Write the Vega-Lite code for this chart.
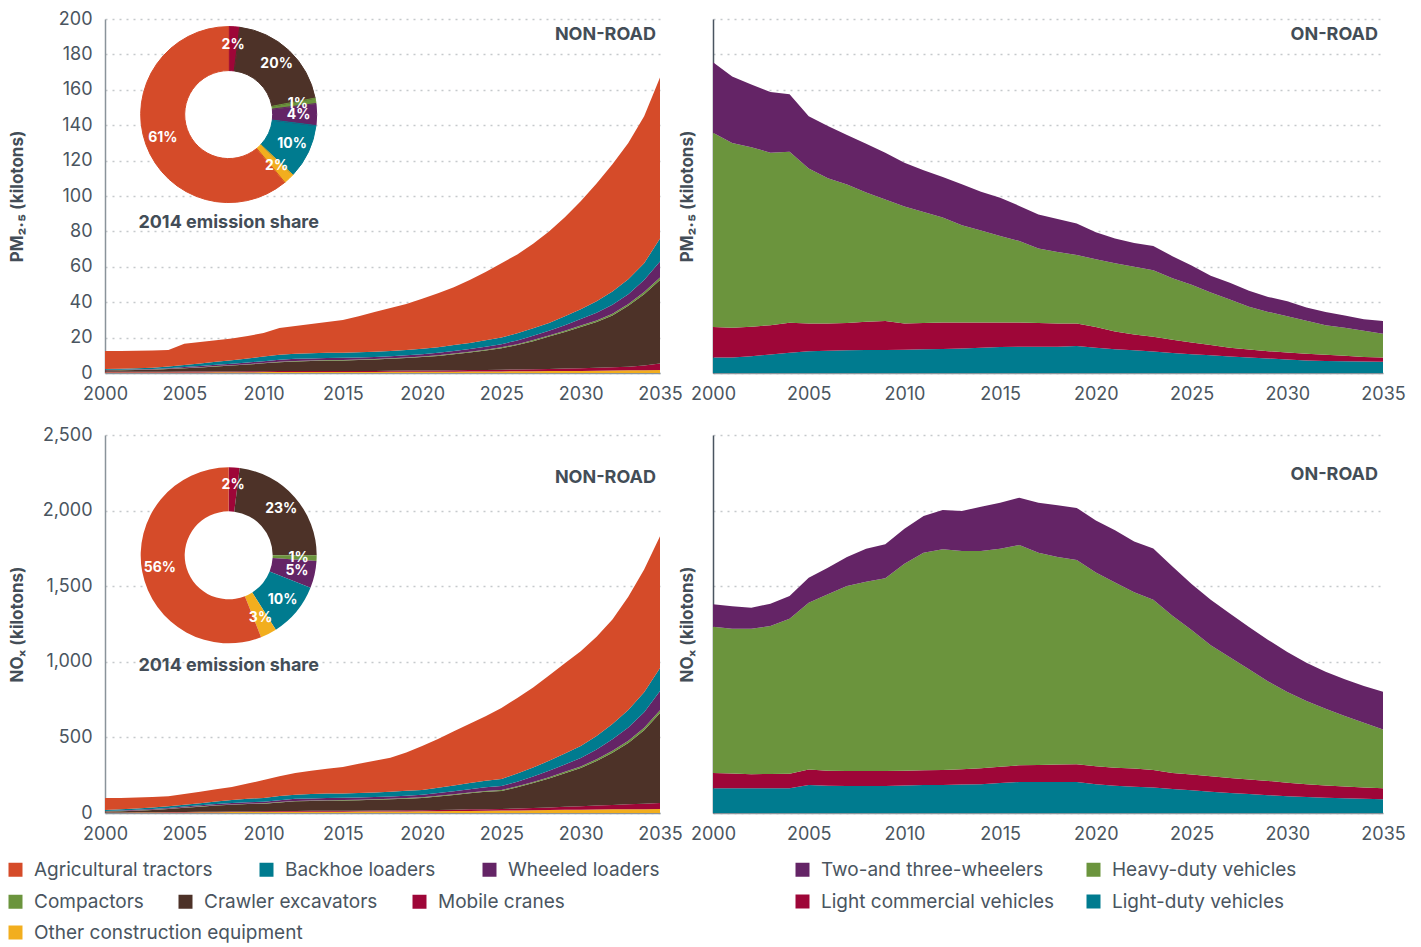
{
"$schema": "https://vega.github.io/schema/vega-lite/v6.json",
"padding": {"left": 6, "top": 10, "right": 5, "bottom": 2},
"background": "white",
"config": {
  "font": "Inter",
  "view": {"stroke": null},
  "axis": {"labelFont": "Inter", "labelFontSize": 18, "labelColor": "#4a5560", "labelOverlap": false, "labelFlush": false, "titleFont": "Inter", "titleFontSize": 17, "titleFontWeight": "bold", "titleColor": "#434d57", "ticks": false, "gridColor": "#c5c9cc", "gridDash": [2, 5], "gridWidth": 1.6, "domainColor": "#8a939a", "domainWidth": 1.5},
  "legend": {"labelFont": "Inter", "labelFontSize": 19, "labelColor": "#4a5560", "symbolType": "square", "symbolSize": 196, "symbolStrokeWidth": 0, "symbolOpacity": 1, "labelOffset": 9, "rowPadding": 12, "labelLimit": 400, "padding": 0, "offset": 0}
},
"datasets": {
  "pm_nonroad": [
    {"year":2000,"Other construction equipment":0.3,"Mobile cranes":0.4,"Crawler excavators":0.8,"Compactors":0.1,"Wheeled loaders":0.2,"Backhoe loaders":0.4,"Agricultural tractors":10.2},
    {"year":2001,"Other construction equipment":0.3,"Mobile cranes":0.4,"Crawler excavators":0.9,"Compactors":0.1,"Wheeled loaders":0.2,"Backhoe loaders":0.5,"Agricultural tractors":10.1},
    {"year":2002,"Other construction equipment":0.3,"Mobile cranes":0.4,"Crawler excavators":1.0,"Compactors":0.1,"Wheeled loaders":0.25,"Backhoe loaders":0.6,"Agricultural tractors":9.95},
    {"year":2003,"Other construction equipment":0.3,"Mobile cranes":0.4,"Crawler excavators":1.2,"Compactors":0.1,"Wheeled loaders":0.3,"Backhoe loaders":0.7,"Agricultural tractors":9.7},
    {"year":2004,"Other construction equipment":0.3,"Mobile cranes":0.45,"Crawler excavators":1.5,"Compactors":0.1,"Wheeled loaders":0.4,"Backhoe loaders":0.9,"Agricultural tractors":9.35},
    {"year":2005,"Other construction equipment":0.35,"Mobile cranes":0.45,"Crawler excavators":1.9,"Compactors":0.15,"Wheeled loaders":0.5,"Backhoe loaders":1.1,"Agricultural tractors":12.05},
    {"year":2006,"Other construction equipment":0.35,"Mobile cranes":0.5,"Crawler excavators":2.3,"Compactors":0.15,"Wheeled loaders":0.6,"Backhoe loaders":1.4,"Agricultural tractors":12.2},
    {"year":2007,"Other construction equipment":0.4,"Mobile cranes":0.5,"Crawler excavators":2.8,"Compactors":0.2,"Wheeled loaders":0.7,"Backhoe loaders":1.7,"Agricultural tractors":12.2},
    {"year":2008,"Other construction equipment":0.4,"Mobile cranes":0.5,"Crawler excavators":3.3,"Compactors":0.2,"Wheeled loaders":0.8,"Backhoe loaders":2.0,"Agricultural tractors":12.3},
    {"year":2009,"Other construction equipment":0.45,"Mobile cranes":0.55,"Crawler excavators":3.8,"Compactors":0.2,"Wheeled loaders":0.9,"Backhoe loaders":2.3,"Agricultural tractors":12.7},
    {"year":2010,"Other construction equipment":0.5,"Mobile cranes":0.55,"Crawler excavators":4.4,"Compactors":0.25,"Wheeled loaders":1.0,"Backhoe loaders":2.6,"Agricultural tractors":13.3},
    {"year":2011,"Other construction equipment":0.5,"Mobile cranes":0.6,"Crawler excavators":5.0,"Compactors":0.25,"Wheeled loaders":1.1,"Backhoe loaders":2.8,"Agricultural tractors":15.15},
    {"year":2012,"Other construction equipment":0.55,"Mobile cranes":0.6,"Crawler excavators":5.4,"Compactors":0.3,"Wheeled loaders":1.15,"Backhoe loaders":2.9,"Agricultural tractors":15.7},
    {"year":2013,"Other construction equipment":0.55,"Mobile cranes":0.6,"Crawler excavators":5.6,"Compactors":0.3,"Wheeled loaders":1.2,"Backhoe loaders":2.9,"Agricultural tractors":16.55},
    {"year":2014,"Other construction equipment":0.6,"Mobile cranes":0.6,"Crawler excavators":5.8,"Compactors":0.3,"Wheeled loaders":1.2,"Backhoe loaders":2.9,"Agricultural tractors":17.4},
    {"year":2015,"Other construction equipment":0.6,"Mobile cranes":0.6,"Crawler excavators":5.9,"Compactors":0.3,"Wheeled loaders":1.2,"Backhoe loaders":2.9,"Agricultural tractors":18.5},
    {"year":2016,"Other construction equipment":0.6,"Mobile cranes":0.6,"Crawler excavators":6.1,"Compactors":0.3,"Wheeled loaders":1.2,"Backhoe loaders":2.9,"Agricultural tractors":20.3},
    {"year":2017,"Other construction equipment":0.6,"Mobile cranes":0.6,"Crawler excavators":6.4,"Compactors":0.3,"Wheeled loaders":1.2,"Backhoe loaders":2.9,"Agricultural tractors":22.5},
    {"year":2018,"Other construction equipment":0.65,"Mobile cranes":0.65,"Crawler excavators":6.7,"Compactors":0.3,"Wheeled loaders":1.2,"Backhoe loaders":2.9,"Agricultural tractors":24.3},
    {"year":2019,"Other construction equipment":0.65,"Mobile cranes":0.7,"Crawler excavators":7.1,"Compactors":0.3,"Wheeled loaders":1.25,"Backhoe loaders":3.0,"Agricultural tractors":26},
    {"year":2020,"Other construction equipment":0.7,"Mobile cranes":0.7,"Crawler excavators":7.6,"Compactors":0.35,"Wheeled loaders":1.3,"Backhoe loaders":3.1,"Agricultural tractors":28.25},
    {"year":2021,"Other construction equipment":0.7,"Mobile cranes":0.75,"Crawler excavators":8.2,"Compactors":0.35,"Wheeled loaders":1.4,"Backhoe loaders":3.2,"Agricultural tractors":30.4},
    {"year":2022,"Other construction equipment":0.75,"Mobile cranes":0.8,"Crawler excavators":9.0,"Compactors":0.4,"Wheeled loaders":1.5,"Backhoe loaders":3.3,"Agricultural tractors":32.75},
    {"year":2023,"Other construction equipment":0.8,"Mobile cranes":0.85,"Crawler excavators":9.9,"Compactors":0.4,"Wheeled loaders":1.6,"Backhoe loaders":3.4,"Agricultural tractors":35.55},
    {"year":2024,"Other construction equipment":0.85,"Mobile cranes":0.9,"Crawler excavators":11.0,"Compactors":0.45,"Wheeled loaders":1.7,"Backhoe loaders":3.55,"Agricultural tractors":38.55},
    {"year":2025,"Other construction equipment":0.9,"Mobile cranes":1.0,"Crawler excavators":12.1,"Compactors":0.5,"Wheeled loaders":1.8,"Backhoe loaders":3.7,"Agricultural tractors":42},
    {"year":2026,"Other construction equipment":1.0,"Mobile cranes":1.0,"Crawler excavators":13.8,"Compactors":0.5,"Wheeled loaders":2.1,"Backhoe loaders":4.1,"Agricultural tractors":44.5},
    {"year":2027,"Other construction equipment":1.05,"Mobile cranes":1.1,"Crawler excavators":15.85,"Compactors":0.6,"Wheeled loaders":2.4,"Backhoe loaders":4.3,"Agricultural tractors":47.7},
    {"year":2028,"Other construction equipment":1.1,"Mobile cranes":1.2,"Crawler excavators":18.3,"Compactors":0.6,"Wheeled loaders":2.6,"Backhoe loaders":4.5,"Agricultural tractors":51.7},
    {"year":2029,"Other construction equipment":1.15,"Mobile cranes":1.35,"Crawler excavators":20.7,"Compactors":0.7,"Wheeled loaders":3.1,"Backhoe loaders":5.0,"Agricultural tractors":56},
    {"year":2030,"Other construction equipment":1.2,"Mobile cranes":1.5,"Crawler excavators":23.3,"Compactors":0.8,"Wheeled loaders":3.7,"Backhoe loaders":5.5,"Agricultural tractors":61},
    {"year":2031,"Other construction equipment":1.3,"Mobile cranes":1.6,"Crawler excavators":25.9,"Compactors":0.9,"Wheeled loaders":4.3,"Backhoe loaders":6.5,"Agricultural tractors":66.5},
    {"year":2032,"Other construction equipment":1.4,"Mobile cranes":1.8,"Crawler excavators":29.3,"Compactors":1.0,"Wheeled loaders":5.0,"Backhoe loaders":7.5,"Agricultural tractors":72},
    {"year":2033,"Other construction equipment":1.5,"Mobile cranes":2.1,"Crawler excavators":34.4,"Compactors":1.0,"Wheeled loaders":5.5,"Backhoe loaders":8.5,"Agricultural tractors":77},
    {"year":2034,"Other construction equipment":1.6,"Mobile cranes":2.6,"Crawler excavators":40.3,"Compactors":1.3,"Wheeled loaders":6.7,"Backhoe loaders":9.5,"Agricultural tractors":83},
    {"year":2035,"Other construction equipment":1.7,"Mobile cranes":3.6,"Crawler excavators":47.2,"Compactors":1.5,"Wheeled loaders":9.0,"Backhoe loaders":13.0,"Agricultural tractors":91}
  ],
  "nox_nonroad": [
    {"year":2000,"Other construction equipment":2,"Mobile cranes":2,"Crawler excavators":6,"Compactors":1,"Wheeled loaders":3,"Backhoe loaders":6,"Agricultural tractors":79},
    {"year":2001,"Other construction equipment":2,"Mobile cranes":2,"Crawler excavators":8,"Compactors":1,"Wheeled loaders":3,"Backhoe loaders":8,"Agricultural tractors":76},
    {"year":2002,"Other construction equipment":2.5,"Mobile cranes":2,"Crawler excavators":11,"Compactors":1.5,"Wheeled loaders":4,"Backhoe loaders":9,"Agricultural tractors":73},
    {"year":2003,"Other construction equipment":3,"Mobile cranes":2.5,"Crawler excavators":15,"Compactors":1.5,"Wheeled loaders":4.5,"Backhoe loaders":10,"Agricultural tractors":69.5},
    {"year":2004,"Other construction equipment":3.5,"Mobile cranes":2.5,"Crawler excavators":20,"Compactors":2,"Wheeled loaders":5,"Backhoe loaders":11,"Agricultural tractors":66},
    {"year":2005,"Other construction equipment":4,"Mobile cranes":3,"Crawler excavators":28,"Compactors":2,"Wheeled loaders":6,"Backhoe loaders":12,"Agricultural tractors":70},
    {"year":2006,"Other construction equipment":5,"Mobile cranes":3,"Crawler excavators":34,"Compactors":2,"Wheeled loaders":7,"Backhoe loaders":14,"Agricultural tractors":76},
    {"year":2007,"Other construction equipment":5.5,"Mobile cranes":3.5,"Crawler excavators":40,"Compactors":2,"Wheeled loaders":8,"Backhoe loaders":17,"Agricultural tractors":81},
    {"year":2008,"Other construction equipment":6,"Mobile cranes":3.5,"Crawler excavators":45,"Compactors":2,"Wheeled loaders":9,"Backhoe loaders":20,"Agricultural tractors":86.5},
    {"year":2009,"Other construction equipment":6.5,"Mobile cranes":4,"Crawler excavators":49,"Compactors":2,"Wheeled loaders":10,"Backhoe loaders":23,"Agricultural tractors":100.5},
    {"year":2010,"Other construction equipment":7,"Mobile cranes":4,"Crawler excavators":51,"Compactors":2,"Wheeled loaders":11,"Backhoe loaders":25,"Agricultural tractors":118},
    {"year":2011,"Other construction equipment":8,"Mobile cranes":5,"Crawler excavators":57,"Compactors":2.5,"Wheeled loaders":12.5,"Backhoe loaders":27,"Agricultural tractors":131},
    {"year":2012,"Other construction equipment":8.5,"Mobile cranes":5.5,"Crawler excavators":63,"Compactors":3,"Wheeled loaders":13.5,"Backhoe loaders":28,"Agricultural tractors":143.5},
    {"year":2013,"Other construction equipment":8.5,"Mobile cranes":6,"Crawler excavators":65,"Compactors":3,"Wheeled loaders":14,"Backhoe loaders":29,"Agricultural tractors":154.5},
    {"year":2014,"Other construction equipment":9,"Mobile cranes":6,"Crawler excavators":67,"Compactors":3,"Wheeled loaders":14.5,"Backhoe loaders":29,"Agricultural tractors":164.5},
    {"year":2015,"Other construction equipment":9,"Mobile cranes":6,"Crawler excavators":68,"Compactors":3,"Wheeled loaders":14.5,"Backhoe loaders":29,"Agricultural tractors":175.5},
    {"year":2016,"Other construction equipment":9.5,"Mobile cranes":6,"Crawler excavators":69,"Compactors":3,"Wheeled loaders":15,"Backhoe loaders":29.5,"Agricultural tractors":193},
    {"year":2017,"Other construction equipment":10,"Mobile cranes":6.5,"Crawler excavators":71,"Compactors":3.5,"Wheeled loaders":15,"Backhoe loaders":30,"Agricultural tractors":209},
    {"year":2018,"Other construction equipment":10,"Mobile cranes":6.5,"Crawler excavators":74,"Compactors":3.5,"Wheeled loaders":15.5,"Backhoe loaders":31,"Agricultural tractors":224.5},
    {"year":2019,"Other construction equipment":10.5,"Mobile cranes":7,"Crawler excavators":77,"Compactors":4,"Wheeled loaders":16,"Backhoe loaders":32,"Agricultural tractors":253.5},
    {"year":2020,"Other construction equipment":11,"Mobile cranes":7,"Crawler excavators":82,"Compactors":4,"Wheeled loaders":16,"Backhoe loaders":32,"Agricultural tractors":291},
    {"year":2021,"Other construction equipment":12,"Mobile cranes":8,"Crawler excavators":89,"Compactors":4.5,"Wheeled loaders":18,"Backhoe loaders":35,"Agricultural tractors":323.5},
    {"year":2022,"Other construction equipment":13,"Mobile cranes":9,"Crawler excavators":97,"Compactors":5,"Wheeled loaders":20,"Backhoe loaders":38,"Agricultural tractors":358},
    {"year":2023,"Other construction equipment":14,"Mobile cranes":10,"Crawler excavators":106,"Compactors":5,"Wheeled loaders":22,"Backhoe loaders":41,"Agricultural tractors":392},
    {"year":2024,"Other construction equipment":15,"Mobile cranes":10.5,"Crawler excavators":115,"Compactors":5.5,"Wheeled loaders":24,"Backhoe loaders":44,"Agricultural tractors":426},
    {"year":2025,"Other construction equipment":16,"Mobile cranes":11,"Crawler excavators":119,"Compactors":6,"Wheeled loaders":26,"Backhoe loaders":47,"Agricultural tractors":470},
    {"year":2026,"Other construction equipment":17,"Mobile cranes":13,"Crawler excavators":140,"Compactors":6.5,"Wheeled loaders":30,"Backhoe loaders":55,"Agricultural tractors":498.5},
    {"year":2027,"Other construction equipment":18,"Mobile cranes":15,"Crawler excavators":165,"Compactors":7,"Wheeled loaders":36,"Backhoe loaders":60,"Agricultural tractors":529},
    {"year":2028,"Other construction equipment":19.5,"Mobile cranes":17.5,"Crawler excavators":192,"Compactors":8,"Wheeled loaders":42,"Backhoe loaders":66,"Agricultural tractors":565},
    {"year":2029,"Other construction equipment":21,"Mobile cranes":20,"Crawler excavators":222,"Compactors":9,"Wheeled loaders":49,"Backhoe loaders":72,"Agricultural tractors":597},
    {"year":2030,"Other construction equipment":22,"Mobile cranes":23,"Crawler excavators":253,"Compactors":10,"Wheeled loaders":56,"Backhoe loaders":79,"Agricultural tractors":627},
    {"year":2031,"Other construction equipment":23,"Mobile cranes":26,"Crawler excavators":295,"Compactors":11,"Wheeled loaders":65,"Backhoe loaders":90,"Agricultural tractors":655},
    {"year":2032,"Other construction equipment":24,"Mobile cranes":29,"Crawler excavators":345,"Compactors":13,"Wheeled loaders":76,"Backhoe loaders":102,"Agricultural tractors":691},
    {"year":2033,"Other construction equipment":24.5,"Mobile cranes":33,"Crawler excavators":405,"Compactors":15,"Wheeled loaders":88,"Backhoe loaders":116,"Agricultural tractors":748.5},
    {"year":2034,"Other construction equipment":25,"Mobile cranes":37,"Crawler excavators":485,"Compactors":17,"Wheeled loaders":103,"Backhoe loaders":132,"Agricultural tractors":811},
    {"year":2035,"Other construction equipment":26,"Mobile cranes":40,"Crawler excavators":595,"Compactors":19,"Wheeled loaders":127,"Backhoe loaders":152,"Agricultural tractors":871}
  ],
  "pm_onroad": [
    {"year":2000,"Light-duty vehicles":8.7,"Light commercial vehicles":17.3,"Heavy-duty vehicles":109.8,"Two-and three-wheelers":39.7},
    {"year":2001,"Light-duty vehicles":8.7,"Light commercial vehicles":16.9,"Heavy-duty vehicles":104.4,"Two-and three-wheelers":37.5},
    {"year":2002,"Light-duty vehicles":9.4,"Light commercial vehicles":16.8,"Heavy-duty vehicles":101.3,"Two-and three-wheelers":35.5},
    {"year":2003,"Light-duty vehicles":10.5,"Light commercial vehicles":16.5,"Heavy-duty vehicles":97.5,"Two-and three-wheelers":34.2},
    {"year":2004,"Light-duty vehicles":11.5,"Light commercial vehicles":16.9,"Heavy-duty vehicles":96.6,"Two-and three-wheelers":32.5},
    {"year":2005,"Light-duty vehicles":12.3,"Light commercial vehicles":15.7,"Heavy-duty vehicles":87.5,"Two-and three-wheelers":29.5},
    {"year":2006,"Light-duty vehicles":12.6,"Light commercial vehicles":15.4,"Heavy-duty vehicles":82,"Two-and three-wheelers":29.5},
    {"year":2007,"Light-duty vehicles":12.8,"Light commercial vehicles":15.5,"Heavy-duty vehicles":78.2,"Two-and three-wheelers":28},
    {"year":2008,"Light-duty vehicles":13,"Light commercial vehicles":16,"Heavy-duty vehicles":73,"Two-and three-wheelers":27.5},
    {"year":2009,"Light-duty vehicles":13,"Light commercial vehicles":16.4,"Heavy-duty vehicles":68.6,"Two-and three-wheelers":26.5},
    {"year":2010,"Light-duty vehicles":13.2,"Light commercial vehicles":14.8,"Heavy-duty vehicles":66,"Two-and three-wheelers":24.8},
    {"year":2011,"Light-duty vehicles":13.4,"Light commercial vehicles":14.8,"Heavy-duty vehicles":62.8,"Two-and three-wheelers":23.5},
    {"year":2012,"Light-duty vehicles":13.6,"Light commercial vehicles":15,"Heavy-duty vehicles":59.2,"Two-and three-wheelers":22.9},
    {"year":2013,"Light-duty vehicles":13.8,"Light commercial vehicles":14.8,"Heavy-duty vehicles":54.9,"Two-and three-wheelers":23.1},
    {"year":2014,"Light-duty vehicles":14.2,"Light commercial vehicles":14.4,"Heavy-duty vehicles":51.9,"Two-and three-wheelers":21.9},
    {"year":2015,"Light-duty vehicles":14.7,"Light commercial vehicles":13.9,"Heavy-duty vehicles":48.8,"Two-and three-wheelers":21.6},
    {"year":2016,"Light-duty vehicles":14.8,"Light commercial vehicles":13.8,"Heavy-duty vehicles":46,"Two-and three-wheelers":19.8},
    {"year":2017,"Light-duty vehicles":14.8,"Light commercial vehicles":13.4,"Heavy-duty vehicles":42.2,"Two-and three-wheelers":19.1},
    {"year":2018,"Light-duty vehicles":14.9,"Light commercial vehicles":13.1,"Heavy-duty vehicles":40.3,"Two-and three-wheelers":18.7},
    {"year":2019,"Light-duty vehicles":15.2,"Light commercial vehicles":12.8,"Heavy-duty vehicles":38.7,"Two-and three-wheelers":17.8},
    {"year":2020,"Light-duty vehicles":14.2,"Light commercial vehicles":11.8,"Heavy-duty vehicles":38.2,"Two-and three-wheelers":15.3},
    {"year":2021,"Light-duty vehicles":13.4,"Light commercial vehicles":10.1,"Heavy-duty vehicles":38.5,"Two-and three-wheelers":14},
    {"year":2022,"Light-duty vehicles":12.8,"Light commercial vehicles":9,"Heavy-duty vehicles":38.2,"Two-and three-wheelers":13.5},
    {"year":2023,"Light-duty vehicles":12.2,"Light commercial vehicles":8.3,"Heavy-duty vehicles":37.5,"Two-and three-wheelers":13.8},
    {"year":2024,"Light-duty vehicles":11.3,"Light commercial vehicles":7.5,"Heavy-duty vehicles":34.7,"Two-and three-wheelers":12.5},
    {"year":2025,"Light-duty vehicles":10.6,"Light commercial vehicles":6.6,"Heavy-duty vehicles":32.6,"Two-and three-wheelers":11},
    {"year":2026,"Light-duty vehicles":10,"Light commercial vehicles":5.8,"Heavy-duty vehicles":29.7,"Two-and three-wheelers":9.5},
    {"year":2027,"Light-duty vehicles":9.3,"Light commercial vehicles":5,"Heavy-duty vehicles":27.2,"Two-and three-wheelers":9.5},
    {"year":2028,"Light-duty vehicles":8.8,"Light commercial vehicles":4.5,"Heavy-duty vehicles":24.2,"Two-and three-wheelers":9},
    {"year":2029,"Light-duty vehicles":8.2,"Light commercial vehicles":4.1,"Heavy-duty vehicles":22.2,"Two-and three-wheelers":8.5},
    {"year":2030,"Light-duty vehicles":7.6,"Light commercial vehicles":4,"Heavy-duty vehicles":20.4,"Two-and three-wheelers":8.5},
    {"year":2031,"Light-duty vehicles":7.1,"Light commercial vehicles":3.8,"Heavy-duty vehicles":18.6,"Two-and three-wheelers":7.5},
    {"year":2032,"Light-duty vehicles":6.8,"Light commercial vehicles":3.5,"Heavy-duty vehicles":16.7,"Two-and three-wheelers":7.5},
    {"year":2033,"Light-duty vehicles":6.6,"Light commercial vehicles":3.1,"Heavy-duty vehicles":15.8,"Two-and three-wheelers":7},
    {"year":2034,"Light-duty vehicles":6.5,"Light commercial vehicles":2.6,"Heavy-duty vehicles":14.7,"Two-and three-wheelers":6.5},
    {"year":2035,"Light-duty vehicles":6.4,"Light commercial vehicles":2.3,"Heavy-duty vehicles":13.5,"Two-and three-wheelers":7.2}
  ],
  "nox_onroad": [
    {"year":2000,"Light-duty vehicles":163,"Light commercial vehicles":101,"Heavy-duty vehicles":968,"Two-and three-wheelers":148},
    {"year":2001,"Light-duty vehicles":163,"Light commercial vehicles":99,"Heavy-duty vehicles":957,"Two-and three-wheelers":148},
    {"year":2002,"Light-duty vehicles":163,"Light commercial vehicles":93,"Heavy-duty vehicles":963,"Two-and three-wheelers":139},
    {"year":2003,"Light-duty vehicles":163,"Light commercial vehicles":95,"Heavy-duty vehicles":979,"Two-and three-wheelers":147},
    {"year":2004,"Light-duty vehicles":163,"Light commercial vehicles":97,"Heavy-duty vehicles":1025,"Two-and three-wheelers":150},
    {"year":2005,"Light-duty vehicles":185,"Light commercial vehicles":102,"Heavy-duty vehicles":1104,"Two-and three-wheelers":165},
    {"year":2006,"Light-duty vehicles":180,"Light commercial vehicles":100,"Heavy-duty vehicles":1166,"Two-and three-wheelers":176},
    {"year":2007,"Light-duty vehicles":178,"Light commercial vehicles":100,"Heavy-duty vehicles":1223,"Two-and three-wheelers":192},
    {"year":2008,"Light-duty vehicles":178,"Light commercial vehicles":100,"Heavy-duty vehicles":1252,"Two-and three-wheelers":218},
    {"year":2009,"Light-duty vehicles":178,"Light commercial vehicles":100,"Heavy-duty vehicles":1274,"Two-and three-wheelers":225},
    {"year":2010,"Light-duty vehicles":182,"Light commercial vehicles":98,"Heavy-duty vehicles":1369,"Two-and three-wheelers":231},
    {"year":2011,"Light-duty vehicles":185,"Light commercial vehicles":97,"Heavy-duty vehicles":1440,"Two-and three-wheelers":242},
    {"year":2012,"Light-duty vehicles":185,"Light commercial vehicles":99,"Heavy-duty vehicles":1460,"Two-and three-wheelers":260},
    {"year":2013,"Light-duty vehicles":188,"Light commercial vehicles":102,"Heavy-duty vehicles":1443,"Two-and three-wheelers":264},
    {"year":2014,"Light-duty vehicles":190,"Light commercial vehicles":106,"Heavy-duty vehicles":1437,"Two-and three-wheelers":293},
    {"year":2015,"Light-duty vehicles":198,"Light commercial vehicles":108,"Heavy-duty vehicles":1442,"Two-and three-wheelers":304},
    {"year":2016,"Light-duty vehicles":205,"Light commercial vehicles":110,"Heavy-duty vehicles":1457,"Two-and three-wheelers":313},
    {"year":2017,"Light-duty vehicles":205,"Light commercial vehicles":112,"Heavy-duty vehicles":1405,"Two-and three-wheelers":330},
    {"year":2018,"Light-duty vehicles":205,"Light commercial vehicles":115,"Heavy-duty vehicles":1373,"Two-and three-wheelers":342},
    {"year":2019,"Light-duty vehicles":205,"Light commercial vehicles":117,"Heavy-duty vehicles":1351,"Two-and three-wheelers":345},
    {"year":2020,"Light-duty vehicles":190,"Light commercial vehicles":119,"Heavy-duty vehicles":1281,"Two-and three-wheelers":345},
    {"year":2021,"Light-duty vehicles":180,"Light commercial vehicles":120,"Heavy-duty vehicles":1225,"Two-and three-wheelers":345},
    {"year":2022,"Light-duty vehicles":174,"Light commercial vehicles":120,"Heavy-duty vehicles":1166,"Two-and three-wheelers":335},
    {"year":2023,"Light-duty vehicles":168,"Light commercial vehicles":117,"Heavy-duty vehicles":1125,"Two-and three-wheelers":340},
    {"year":2024,"Light-duty vehicles":159,"Light commercial vehicles":106,"Heavy-duty vehicles":1040,"Two-and three-wheelers":325},
    {"year":2025,"Light-duty vehicles":150,"Light commercial vehicles":105,"Heavy-duty vehicles":955,"Two-and three-wheelers":305},
    {"year":2026,"Light-duty vehicles":140,"Light commercial vehicles":103,"Heavy-duty vehicles":867,"Two-and three-wheelers":300},
    {"year":2027,"Light-duty vehicles":132,"Light commercial vehicles":100,"Heavy-duty vehicles":798,"Two-and three-wheelers":290},
    {"year":2028,"Light-duty vehicles":125,"Light commercial vehicles":97,"Heavy-duty vehicles":728,"Two-and three-wheelers":280},
    {"year":2029,"Light-duty vehicles":118,"Light commercial vehicles":94,"Heavy-duty vehicles":658,"Two-and three-wheelers":275},
    {"year":2030,"Light-duty vehicles":111,"Light commercial vehicles":89,"Heavy-duty vehicles":600,"Two-and three-wheelers":265},
    {"year":2031,"Light-duty vehicles":106,"Light commercial vehicles":84,"Heavy-duty vehicles":550,"Two-and three-wheelers":254},
    {"year":2032,"Light-duty vehicles":101,"Light commercial vehicles":81,"Heavy-duty vehicles":508,"Two-and three-wheelers":245},
    {"year":2033,"Light-duty vehicles":97,"Light commercial vehicles":78,"Heavy-duty vehicles":467,"Two-and three-wheelers":242},
    {"year":2034,"Light-duty vehicles":94,"Light commercial vehicles":74,"Heavy-duty vehicles":429,"Two-and three-wheelers":243},
    {"year":2035,"Light-duty vehicles":91,"Light commercial vehicles":72,"Heavy-duty vehicles":390,"Two-and three-wheelers":249}
  ],
  "pm_share": [
    {"series":"Mobile cranes","share":0.02},
    {"series":"Crawler excavators","share":0.20},
    {"series":"Compactors","share":0.01},
    {"series":"Wheeled loaders","share":0.04},
    {"series":"Backhoe loaders","share":0.10},
    {"series":"Other construction equipment","share":0.02},
    {"series":"Agricultural tractors","share":0.61}
  ],
  "nox_share": [
    {"series":"Mobile cranes","share":0.02},
    {"series":"Crawler excavators","share":0.23},
    {"series":"Compactors","share":0.01},
    {"series":"Wheeled loaders","share":0.05},
    {"series":"Backhoe loaders","share":0.10},
    {"series":"Other construction equipment","share":0.03},
    {"series":"Agricultural tractors","share":0.56}
  ]
},
"columns": 2,
"align": "each",
"bounds": "flush",
"spacing": {"row": 62, "column": 53},
"concat": [
  {
    "width": 555, "height": 354,
    "layer": [
      {
        "data": {"name": "pm_nonroad"},
        "transform": [
          {"fold": ["Other construction equipment","Mobile cranes","Crawler excavators","Compactors","Wheeled loaders","Backhoe loaders","Agricultural tractors"], "as": ["series","value"]},
          {"window": [{"op": "row_number", "as": "k"}], "groupby": ["year"]}
        ],
        "mark": {"type": "area", "opacity": 1},
        "encoding": {
          "x": {"field": "year", "type": "quantitative", "scale": {"domain": [2000, 2035], "nice": false, "zero": false}, "axis": {"title": null, "values": [2000,2005,2010,2015,2020,2025,2030,2035], "tickCount": 20, "format": "d", "labelExpr": "format(datum.value, 'd')", "grid": false, "labelPadding": 12}},
          "y": {"field": "value", "type": "quantitative", "stack": "zero", "scale": {"domain": [0, 200], "nice": false}, "axis": {"title": "PM₂.₅ (kilotons)", "values": [0,20,40,60,80,100,120,140,160,180,200], "tickCount": 20, "format": "d", "labelExpr": "format(datum.value, 'd')", "grid": true, "labelPadding": 13, "titleX": -79}},
          "color": {"field": "series", "type": "nominal", "scale": {"domain": ["Agricultural tractors","Backhoe loaders","Wheeled loaders","Compactors","Crawler excavators","Mobile cranes","Other construction equipment"], "range": ["#D54B29","#007B8F","#642466","#6B943D","#4D3228","#9E0638","#F2AE1E"]}, "legend": {"title": null, "orient": "none", "legendX": -99, "legendY": 841, "values": ["Agricultural tractors","Backhoe loaders","Wheeled loaders"], "columns": 3, "direction": "horizontal", "columnPadding": 44}},
          "order": {"field": "k", "type": "quantitative"}
        }
      },
      {
        "data": {"values": [{}]},
        "mark": {"type": "arc", "outerRadius": 88, "innerRadius": 0, "fill": "white"},
        "encoding": {"theta": {"value": 0}, "theta2": {"value": 6.2832}, "x": {"datum": 2007.8, "type": "quantitative"}, "y": {"datum": 146, "type": "quantitative"}}
      },
      {
        "data": {"name": "pm_share"},
        "transform": [{"window": [{"op": "row_number", "as": "k"}]}],
        "mark": {"type": "arc", "innerRadius": 44, "outerRadius": 88},
        "encoding": {
          "theta": {"field": "share", "type": "quantitative", "stack": true},
          "color": {"field": "series", "type": "nominal", "scale": {"domain": ["Agricultural tractors","Backhoe loaders","Wheeled loaders","Compactors","Crawler excavators","Mobile cranes","Other construction equipment"], "range": ["#D54B29","#007B8F","#642466","#6B943D","#4D3228","#9E0638","#F2AE1E"]}, "legend": {"title": null, "orient": "none", "legendX": -99, "legendY": 841, "values": ["Agricultural tractors","Backhoe loaders","Wheeled loaders"], "columns": 3, "direction": "horizontal", "columnPadding": 44}},
          "opacity": {"field": "series", "type": "nominal", "scale": {"domain": ["Other construction equipment","Agricultural tractors","Backhoe loaders","Wheeled loaders","Compactors","Crawler excavators","Mobile cranes"], "range": [1, 1]}, "legend": {"title": null, "orient": "none", "legendX": -99, "legendY": 904, "values": ["Other construction equipment"], "symbolFillColor": "#F2AE1E", "symbolOpacity": 1}},
          "order": {"field": "k", "type": "quantitative"},
          "x": {"datum": 2007.8, "type": "quantitative"},
          "y": {"datum": 146, "type": "quantitative"}
        }
      },
      {
        "data": {"name": "pm_share"},
        "transform": [{"window": [{"op": "row_number", "as": "k"}]}],
        "mark": {"type": "arc", "innerRadius": 44, "outerRadius": 88, "filled": false},
        "encoding": {
          "theta": {"field": "share", "type": "quantitative", "stack": true},
          "stroke": {"field": "series", "type": "nominal", "scale": {"domain": ["Compactors","Crawler excavators","Mobile cranes","Agricultural tractors","Backhoe loaders","Wheeled loaders","Other construction equipment"], "range": ["#6B943D","#4D3228","#9E0638","#D54B29","#007B8F","#642466","#F2AE1E"]}, "legend": {"title": null, "orient": "none", "legendX": -99, "legendY": 873, "values": ["Compactors","Crawler excavators","Mobile cranes"], "columns": 3, "direction": "horizontal", "columnPadding": 22, "symbolSize": 36, "symbolStrokeWidth": 8}},
          "order": {"field": "k", "type": "quantitative"},
          "x": {"datum": 2007.8, "type": "quantitative"},
          "y": {"datum": 146, "type": "quantitative"}
        }
      },
      {
        "data": {"name": "pm_share"},
        "transform": [{"window": [{"op": "row_number", "as": "k"}]}],
        "mark": {"type": "text", "radius": 70, "fill": "white", "fontWeight": "bold", "fontSize": 14, "align": "center", "baseline": "middle"},
        "encoding": {
          "theta": {"field": "share", "type": "quantitative", "stack": true},
          "detail": {"field": "series", "type": "nominal"},
          "order": {"field": "k", "type": "quantitative"},
          "text": {"field": "share", "type": "quantitative", "format": ".0%"},
          "x": {"datum": 2007.8, "type": "quantitative"},
          "y": {"datum": 146, "type": "quantitative"}
        }
      },
      {
        "data": {"values": [{}]},
        "mark": {"type": "text", "text": "2014 emission share", "fontSize": 18, "fontWeight": "bold", "color": "#434d57", "align": "center", "baseline": "middle"},
        "encoding": {"x": {"datum": 2007.8, "type": "quantitative"}, "y": {"datum": 84.7, "type": "quantitative"}}
      },
      {
        "data": {"values": [{}]},
        "mark": {"type": "text", "text": "NON-ROAD", "fontSize": 18, "fontWeight": "bold", "color": "#434d57", "align": "right", "baseline": "middle", "dx": -4},
        "encoding": {"x": {"datum": 2035, "type": "quantitative"}, "y": {"datum": 191, "type": "quantitative"}}
      }
    ]
  },
  {
    "width": 670, "height": 354,
    "layer": [
      {
        "data": {"name": "pm_onroad"},
        "transform": [
          {"fold": ["Light-duty vehicles","Light commercial vehicles","Heavy-duty vehicles","Two-and three-wheelers"], "as": ["series","value"]},
          {"window": [{"op": "row_number", "as": "k"}], "groupby": ["year"]}
        ],
        "mark": {"type": "area", "opacity": 1},
        "encoding": {
          "x": {"field": "year", "type": "quantitative", "scale": {"domain": [2000, 2035], "nice": false, "zero": false}, "axis": {"title": null, "values": [2000,2005,2010,2015,2020,2025,2030,2035], "tickCount": 20, "format": "d", "labelExpr": "format(datum.value, 'd')", "grid": false, "labelPadding": 12}},
          "y": {"field": "value", "type": "quantitative", "stack": "zero", "scale": {"domain": [0, 200], "nice": false}, "axis": {"title": "PM₂.₅ (kilotons)", "values": [0,20,40,60,80,100,120,140,160,180,200], "tickCount": 20, "grid": true, "labels": false, "titleX": -17, "domainColor": "#4a5560"}},
          "fill": {"field": "series", "type": "nominal", "scale": {"domain": ["Two-and three-wheelers","Heavy-duty vehicles","Light commercial vehicles","Light-duty vehicles"], "range": ["#642466","#6B943D","#9E0638","#007B8F"]}, "legend": {"title": null, "orient": "none", "legendX": 688, "legendY": 841, "columns": 2, "direction": "horizontal", "columnPadding": 29}},
          "order": {"field": "k", "type": "quantitative"}
        }
      },
      {
        "data": {"values": [{}]},
        "mark": {"type": "text", "text": "ON-ROAD", "fontSize": 18, "fontWeight": "bold", "color": "#434d57", "align": "right", "baseline": "middle", "dx": -5},
        "encoding": {"x": {"datum": 2035, "type": "quantitative"}, "y": {"datum": 191, "type": "quantitative"}}
      }
    ]
  },
  {
    "width": 555, "height": 378,
    "layer": [
      {
        "data": {"name": "nox_nonroad"},
        "transform": [
          {"fold": ["Other construction equipment","Mobile cranes","Crawler excavators","Compactors","Wheeled loaders","Backhoe loaders","Agricultural tractors"], "as": ["series","value"]},
          {"window": [{"op": "row_number", "as": "k"}], "groupby": ["year"]}
        ],
        "mark": {"type": "area", "opacity": 1},
        "encoding": {
          "x": {"field": "year", "type": "quantitative", "scale": {"domain": [2000, 2035], "nice": false, "zero": false}, "axis": {"title": null, "values": [2000,2005,2010,2015,2020,2025,2030,2035], "tickCount": 20, "format": "d", "labelExpr": "format(datum.value, 'd')", "grid": false, "labelPadding": 12}},
          "y": {"field": "value", "type": "quantitative", "stack": "zero", "scale": {"domain": [0, 2500], "nice": false}, "axis": {"title": "NOₓ (kilotons)", "values": [0,500,1000,1500,2000,2500], "tickCount": 20, "format": ",", "labelExpr": "format(datum.value, ',')", "grid": true, "labelPadding": 13, "titleX": -79}},
          "color": {"field": "series", "type": "nominal", "scale": {"domain": ["Agricultural tractors","Backhoe loaders","Wheeled loaders","Compactors","Crawler excavators","Mobile cranes","Other construction equipment"], "range": ["#D54B29","#007B8F","#642466","#6B943D","#4D3228","#9E0638","#F2AE1E"]}, "legend": {"title": null, "orient": "none", "legendX": -99, "legendY": 841, "values": ["Agricultural tractors","Backhoe loaders","Wheeled loaders"], "columns": 3, "direction": "horizontal", "columnPadding": 44}},
          "order": {"field": "k", "type": "quantitative"}
        }
      },
      {
        "data": {"values": [{}]},
        "mark": {"type": "arc", "outerRadius": 88, "innerRadius": 0, "fill": "white"},
        "encoding": {"theta": {"value": 0}, "theta2": {"value": 6.2832}, "x": {"datum": 2007.8, "type": "quantitative"}, "y": {"datum": 1704, "type": "quantitative"}}
      },
      {
        "data": {"name": "nox_share"},
        "transform": [{"window": [{"op": "row_number", "as": "k"}]}],
        "mark": {"type": "arc", "innerRadius": 44, "outerRadius": 88},
        "encoding": {
          "theta": {"field": "share", "type": "quantitative", "stack": true},
          "color": {"field": "series", "type": "nominal", "scale": {"domain": ["Agricultural tractors","Backhoe loaders","Wheeled loaders","Compactors","Crawler excavators","Mobile cranes","Other construction equipment"], "range": ["#D54B29","#007B8F","#642466","#6B943D","#4D3228","#9E0638","#F2AE1E"]}, "legend": {"title": null, "orient": "none", "legendX": -99, "legendY": 841, "values": ["Agricultural tractors","Backhoe loaders","Wheeled loaders"], "columns": 3, "direction": "horizontal", "columnPadding": 44}},
          "order": {"field": "k", "type": "quantitative"},
          "x": {"datum": 2007.8, "type": "quantitative"},
          "y": {"datum": 1704, "type": "quantitative"}
        }
      },
      {
        "data": {"name": "nox_share"},
        "transform": [{"window": [{"op": "row_number", "as": "k"}]}],
        "mark": {"type": "text", "radius": 70, "fill": "white", "fontWeight": "bold", "fontSize": 14, "align": "center", "baseline": "middle"},
        "encoding": {
          "theta": {"field": "share", "type": "quantitative", "stack": true},
          "detail": {"field": "series", "type": "nominal"},
          "order": {"field": "k", "type": "quantitative"},
          "text": {"field": "share", "type": "quantitative", "format": ".0%"},
          "x": {"datum": 2007.8, "type": "quantitative"},
          "y": {"datum": 1704, "type": "quantitative"}
        }
      },
      {
        "data": {"values": [{}]},
        "mark": {"type": "text", "text": "2014 emission share", "fontSize": 18, "fontWeight": "bold", "color": "#434d57", "align": "center", "baseline": "middle"},
        "encoding": {"x": {"datum": 2007.8, "type": "quantitative"}, "y": {"datum": 972, "type": "quantitative"}}
      },
      {
        "data": {"values": [{}]},
        "mark": {"type": "text", "text": "NON-ROAD", "fontSize": 18, "fontWeight": "bold", "color": "#434d57", "align": "right", "baseline": "middle", "dx": -4},
        "encoding": {"x": {"datum": 2035, "type": "quantitative"}, "y": {"datum": 2216, "type": "quantitative"}}
      }
    ]
  },
  {
    "width": 670, "height": 378,
    "layer": [
      {
        "data": {"name": "nox_onroad"},
        "transform": [
          {"fold": ["Light-duty vehicles","Light commercial vehicles","Heavy-duty vehicles","Two-and three-wheelers"], "as": ["series","value"]},
          {"window": [{"op": "row_number", "as": "k"}], "groupby": ["year"]}
        ],
        "mark": {"type": "area", "opacity": 1},
        "encoding": {
          "x": {"field": "year", "type": "quantitative", "scale": {"domain": [2000, 2035], "nice": false, "zero": false}, "axis": {"title": null, "values": [2000,2005,2010,2015,2020,2025,2030,2035], "tickCount": 20, "format": "d", "labelExpr": "format(datum.value, 'd')", "grid": false, "labelPadding": 12}},
          "y": {"field": "value", "type": "quantitative", "stack": "zero", "scale": {"domain": [0, 2500], "nice": false}, "axis": {"title": "NOₓ (kilotons)", "values": [0,500,1000,1500,2000,2500], "tickCount": 20, "grid": true, "labels": false, "titleX": -17, "domainColor": "#4a5560"}},
          "fill": {"field": "series", "type": "nominal", "scale": {"domain": ["Two-and three-wheelers","Heavy-duty vehicles","Light commercial vehicles","Light-duty vehicles"], "range": ["#642466","#6B943D","#9E0638","#007B8F"]}, "legend": {"title": null, "orient": "none", "legendX": 688, "legendY": 841, "columns": 2, "direction": "horizontal", "columnPadding": 29}},
          "order": {"field": "k", "type": "quantitative"}
        }
      },
      {
        "data": {"values": [{}]},
        "mark": {"type": "text", "text": "ON-ROAD", "fontSize": 18, "fontWeight": "bold", "color": "#434d57", "align": "right", "baseline": "middle", "dx": -5},
        "encoding": {"x": {"datum": 2035, "type": "quantitative"}, "y": {"datum": 2236, "type": "quantitative"}}
      }
    ]
  }
]
}
